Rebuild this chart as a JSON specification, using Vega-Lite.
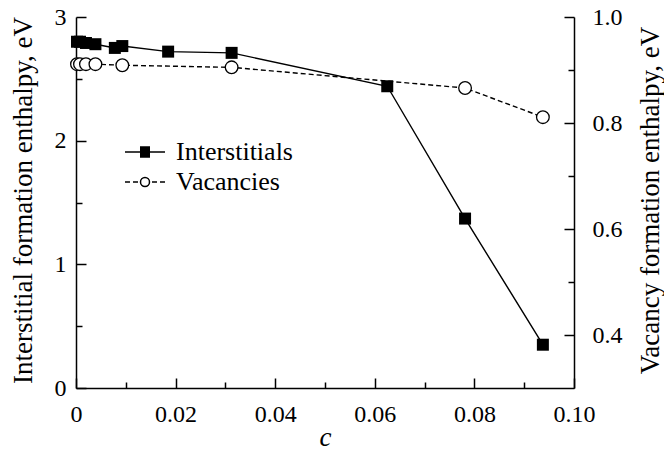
{
  "$schema": "https://vega.github.io/schema/vega-lite/v6.json",
  "autosize": {"type": "none"},
  "padding": {"left": 76, "top": 17, "right": 90, "bottom": 62},
  "width": 498,
  "height": 371,
  "background": "white",
  "config": {
    "view": {"stroke": null},
    "font": "Liberation Serif",
    "axis": {
      "grid": false,
      "labelFont": "Liberation Serif",
      "titleFont": "Liberation Serif",
      "labelFontSize": 24,
      "titleFontSize": 27,
      "titleFontWeight": "normal",
      "labelColor": "black",
      "titleColor": "black",
      "domainColor": "black",
      "domainWidth": 1.5,
      "tickColor": "black",
      "tickWidth": 1.5
    },
    "legend": {
      "labelFont": "Liberation Serif",
      "labelFontSize": 26,
      "labelColor": "black"
    }
  },
  "data": {
    "values": [
      {"c": 0.0002, "series": "Interstitials", "H": 2.80},
      {"c": 0.0008, "series": "Interstitials", "H": 2.80},
      {"c": 0.002, "series": "Interstitials", "H": 2.79},
      {"c": 0.0039, "series": "Interstitials", "H": 2.78},
      {"c": 0.0078, "series": "Interstitials", "H": 2.75},
      {"c": 0.0093, "series": "Interstitials", "H": 2.765},
      {"c": 0.0185, "series": "Interstitials", "H": 2.72},
      {"c": 0.03125, "series": "Interstitials", "H": 2.71},
      {"c": 0.0625, "series": "Interstitials", "H": 2.44},
      {"c": 0.078125, "series": "Interstitials", "H": 1.37},
      {"c": 0.09375, "series": "Interstitials", "H": 0.35},
      {"c": 0.0002, "series": "Vacancies", "H": 0.911},
      {"c": 0.0008, "series": "Vacancies", "H": 0.911},
      {"c": 0.002, "series": "Vacancies", "H": 0.911},
      {"c": 0.0039, "series": "Vacancies", "H": 0.911},
      {"c": 0.0093, "series": "Vacancies", "H": 0.909},
      {"c": 0.03125, "series": "Vacancies", "H": 0.905},
      {"c": 0.078125, "series": "Vacancies", "H": 0.866},
      {"c": 0.09375, "series": "Vacancies", "H": 0.811}
    ]
  },
  "encoding": {
    "x": {
      "field": "c",
      "type": "quantitative",
      "scale": {"domain": [0, 0.1], "nice": false, "zero": false},
      "axis": {
        "title": "c",
        "titleFontStyle": "italic",
        "titleX": 249,
        "titleY": 49,
        "titleAlign": "center",
        "titleBaseline": "middle",
        "values": [0, 0.01, 0.02, 0.03, 0.04, 0.05, 0.06, 0.07, 0.08, 0.09, 0.1],
        "labelExpr": "round(datum.value*100) % 2 === 0 ? (datum.value === 0 ? '0' : format(datum.value, '.2f')) : ''",
        "tickSize": {"condition": {"test": "round(datum.value*100) % 2 === 0", "value": -10}, "value": -6},
        "labelPadding": 24,
        "labelFlush": false,
        "labelOverlap": false
      }
    }
  },
  "layer": [
    {
      "transform": [{"filter": "datum.series === 'Vacancies'"}],
      "encoding": {
        "y": {
          "field": "H",
          "type": "quantitative",
          "scale": {"domain": [0.3, 1.0], "nice": false, "zero": false},
          "axis": {
            "orient": "right",
            "title": "Vacancy formation enthalpy, eV",
            "titleAngle": 270,
            "titleX": 76,
            "titleY": 183,
            "titleAlign": "center",
            "titleBaseline": "middle",
            "values": [0.4, 0.5, 0.6, 0.7, 0.8, 0.9, 1.0],
            "labelExpr": "round(datum.value*10) % 2 === 0 ? format(datum.value, '.1f') : ''",
            "tickSize": {"condition": {"test": "round(datum.value*10) % 2 === 0", "value": -10}, "value": -6},
            "labelPadding": 28,
            "labelOverlap": false,
            "labelFlush": false
          }
        }
      },
      "layer": [
        {
          "mark": {"type": "line", "color": "black", "strokeWidth": 1.4, "strokeDash": [5, 3]}
        },
        {
          "mark": {"type": "point", "shape": "circle", "filled": true, "fill": "white", "stroke": "black", "strokeWidth": 1.3, "size": 160, "opacity": 1}
        }
      ]
    },
    {
      "transform": [{"filter": "datum.series === 'Interstitials'"}],
      "encoding": {
        "y": {
          "field": "H",
          "type": "quantitative",
          "scale": {"domain": [0, 3], "nice": false},
          "axis": {
            "orient": "left",
            "title": "Interstitial formation enthalpy, eV",
            "titleAngle": 270,
            "titleX": -53,
            "titleY": 183,
            "titleAlign": "center",
            "titleBaseline": "middle",
            "values": [0, 0.5, 1, 1.5, 2, 2.5, 3],
            "labelExpr": "datum.value % 1 === 0 ? format(datum.value, 'd') : ''",
            "tickSize": {"condition": {"test": "datum.value % 1 === 0", "value": -10}, "value": -6},
            "labelPadding": 20,
            "labelOverlap": false,
            "labelFlush": false
          }
        }
      },
      "layer": [
        {
          "mark": {"type": "line", "color": "black", "strokeWidth": 1.4}
        },
        {
          "mark": {"type": "point", "shape": "square", "filled": true, "color": "black", "size": 144, "opacity": 1}
        },
        {
          "transform": [{"filter": "datum.c < 0"}],
          "mark": {"type": "point", "filled": true, "fill": "white", "stroke": "black", "strokeWidth": 1.4, "size": 100, "opacity": 1},
          "encoding": {
            "shape": {
              "field": "series",
              "type": "nominal",
              "scale": {
                "domain": ["Interstitials", "Vacancies"],
                "range": [
                  "M-4,0H4M-1,-1H1M-1,-0.8H1M-1,-0.6H1M-1,-0.4H1M-1,-0.2H1M-1,0.2H1M-1,0.4H1M-1,0.6H1M-1,0.8H1M-1,1H1",
                  "M-4,0H-3M-2.4,0H-1.4M1.4,0H2.4M3,0H4M0.9,0A0.9,0.9,0,1,1,-0.9,0A0.9,0.9,0,1,1,0.9,0Z"
                ]
              },
              "legend": {
                "title": null,
                "orient": "none",
                "legendX": 56,
                "legendY": 122,
                "rowPadding": 4,
                "symbolSize": 100,
                "symbolOffset": 0,
                "labelOffset": 18
              }
            }
          }
        }
      ]
    }
  ],
  "resolve": {"scale": {"y": "independent"}}
}
